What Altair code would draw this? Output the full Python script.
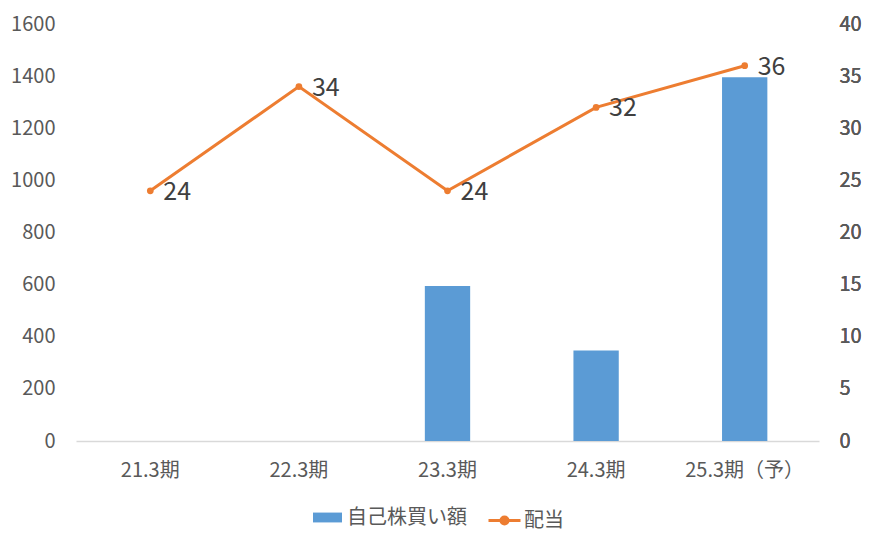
import altair as alt
import pandas as pd

periods = ["21.3期", "22.3期", "23.3期", "24.3期", "25.3期（予）"]
buyback = [0, 0, 595, 347, 1396]
dividend = [24, 34, 24, 32, 36]
left_ticks = [0, 200, 400, 600, 800, 1000, 1200, 1400, 1600]
right_ticks = [0, 5, 10, 15, 20, 25, 30, 35, 40]
bar_name = "自己株買い額"
line_name = "配当"

df = pd.DataFrame({"period": periods, "buyback": buyback, "dividend": dividend})
df["s_bar"] = bar_name
df["s_line"] = line_name

FONT = "Noto Sans CJK JP"
BLUE = "#5B9BD5"
ORANGE = "#ED7D31"

x = alt.X("period:N", sort=periods, title=None,
          scale=alt.Scale(paddingInner=0, paddingOuter=0),
          axis=alt.Axis(labelAngle=0, labelFont=FONT, labelFontSize=20, labelColor="#595959",
                        labelPadding=19, ticks=False, domainColor="#D9D9D9", domainWidth=1.5,
                        grid=False))

bars = alt.Chart(df).mark_bar(width={"band": 0.305}).encode(
    x=x,
    y=alt.Y("buyback:Q", title=None,
            scale=alt.Scale(domain=[0, 1600]),
            axis=alt.Axis(values=left_ticks, format="d", orient="left", labelFont=FONT,
                          labelFontSize=20, labelColor="#595959", labelPadding=21,
                          ticks=False, domain=False, grid=False)),
    color=alt.Color("s_bar:N", title=None,
                    scale=alt.Scale(domain=[bar_name], range=[BLUE]),
                    legend=alt.Legend(orient="none", legendX=237, legendY=479, padding=0,
                                      symbolType="M-1,-0.34H1V0.34H-1Z", symbolSize=841,
                                      symbolStrokeWidth=0, labelFont=FONT, labelFontSize=20,
                                      labelColor="#595959", labelOffset=5)),
)

yr = alt.Y("dividend:Q", title=None,
           scale=alt.Scale(domain=[0, 40]),
           axis=alt.Axis(values=right_ticks, orient="right", labelFont=FONT, labelFontSize=20,
                         labelColor="#595959", labelPadding=20, ticks=False, domain=False,
                         grid=False))

line = alt.Chart(df).mark_line(color=ORANGE, strokeWidth=3).encode(x=x, y=yr)

pts = alt.Chart(df).mark_circle(size=45, opacity=1).encode(
    x=x, y=yr,
    color=alt.Color("s_line:N", title=None,
                    scale=alt.Scale(domain=[line_name], range=[ORANGE]),
                    legend=alt.Legend(orient="none", legendX=411, legendY=479, padding=0,
                                      symbolType="M-1,0H1M-0.22,0A0.22,0.22,0,1,1,0.22,0A0.22,0.22,0,1,1,-0.22,0Z",
                                      symbolSize=1024, symbolStrokeColor=ORANGE,
                                      symbolStrokeWidth=3, symbolFillColor=ORANGE,
                                      labelFont=FONT, labelFontSize=20,
                                      labelColor="#595959", labelOffset=2)),
)

labels = alt.Chart(df).mark_text(align="left", baseline="middle", dx=13, dy=1,
                                 font=FONT, fontSize=25, color="#404040").encode(
    x=x, y=yr, text=alt.Text("dividend:Q", format=".0f"))

chart = alt.layer(bars, line, pts, labels).resolve_scale(
    y="independent", color="independent"
).properties(
    width=743, height=417,
    autosize=alt.AutoSizeParams(type="none"),
    padding={"left": 68, "top": 16, "right": 45, "bottom": 100},
).configure_view(stroke=None)

chart.save("out.html", embed_options={"renderer": "svg", "actions": False})
